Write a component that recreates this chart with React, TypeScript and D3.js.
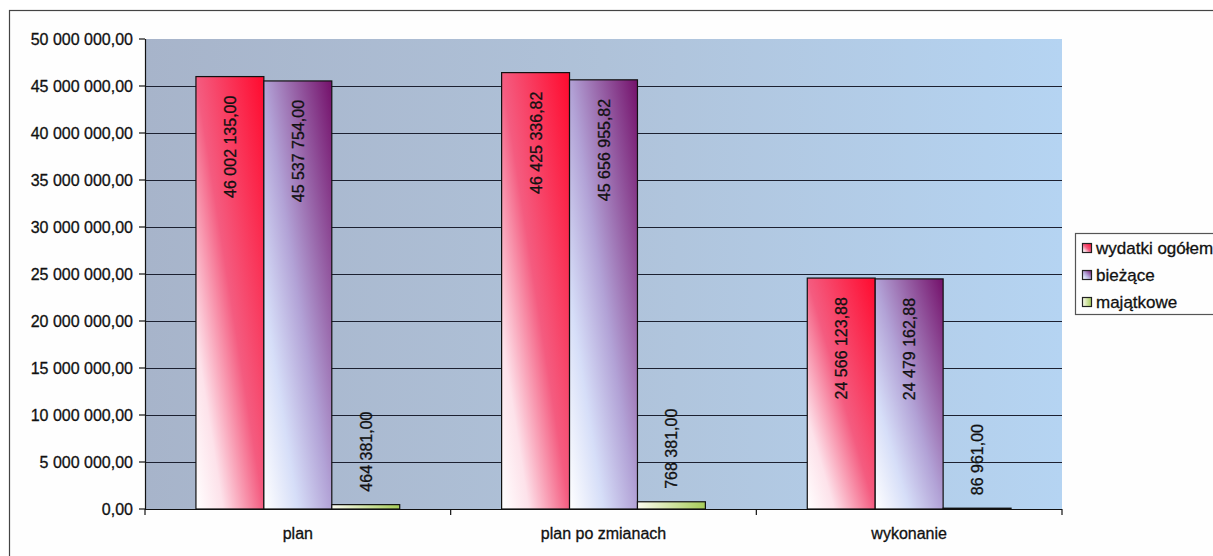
import React from "react";
import * as d3 from "d3";

const categories = ["plan", "plan po zmianach", "wykonanie"];
const seriesNames = ["wydatki ogółem", "bieżące", "majątkowe"];
const wydatkiOgolem = [46002135.0, 46425336.82, 24566123.88];
const biezace = [45537754.0, 45656955.82, 24479162.88];
const majatkowe = [464381.0, 768381.0, 86961.0];
const yTicks = [0, 5e6, 10e6, 15e6, 20e6, 25e6, 30e6, 35e6, 40e6, 45e6, 50e6];

const seriesValues = [wydatkiOgolem, biezace, majatkowe];
const gradIds = ["gRed", "gPurple", "gGreen"];

const pl = d3.formatLocale({ decimal: ",", thousands: " ", grouping: [3], currency: ["", ""] });
const fmt = pl.format(",.2f");

const W = 1213;
const H = 556;
const plot = { left: 145, right: 1062, top: 39, bottom: 509 };
const FONT = "'Liberation Sans', Arial, sans-serif";
const textStyle = { stroke: "#111", strokeWidth: 0.3 };

export default function App() {
  const x = d3.scaleBand<string>().domain(categories).range([plot.left, plot.right]).padding(0);
  const xs = d3
    .scaleBand<string>()
    .domain(seriesNames)
    .range([0, x.bandwidth()])
    .paddingInner(0)
    .paddingOuter(0.75);
  const y = d3.scaleLinear().domain([0, 50e6]).range([plot.bottom, plot.top]);

  const catBounds = [...categories.map((c) => x(c) as number), plot.right];

  return (
    <div>
      <style>{`body{margin:0;background:#fff}`}</style>
      <svg width={W} height={H} style={{ display: "block", fontFamily: FONT }}>
        <defs>
          <linearGradient id="plotBg" x1="0" y1="0" x2="1" y2="0">
            <stop offset="0" stopColor="#a7b4ca" />
            <stop offset="0.5" stopColor="#afc2d9" />
            <stop offset="1" stopColor="#b5d4f2" />
          </linearGradient>
          <linearGradient id="gRed" x1="0" y1="1" x2="1" y2="0">
            <stop offset="0" stopColor="#ffffff" />
            <stop offset="0.2" stopColor="#fde2ea" />
            <stop offset="0.5" stopColor="#f45c80" />
            <stop offset="1" stopColor="#ff0a2e" />
          </linearGradient>
          <linearGradient id="gPurple" x1="0" y1="1" x2="1" y2="0">
            <stop offset="0" stopColor="#ffffff" />
            <stop offset="0.25" stopColor="#d6def8" />
            <stop offset="0.5" stopColor="#b2a2d6" />
            <stop offset="1" stopColor="#74106a" />
          </linearGradient>
          <linearGradient id="gGreen" x1="0" y1="0" x2="1" y2="0">
            <stop offset="0" stopColor="#fbfbf0" />
            <stop offset="1" stopColor="#a6cc58" />
          </linearGradient>
        </defs>

        {/* chart frame */}
        <rect x={9.5} y={10.5} width={W + 20} height={H + 20} fill="#fefefe" stroke="#444" strokeWidth={1.2} />

        {/* plot area */}
        <rect
          x={plot.left}
          y={plot.top}
          width={plot.right - plot.left}
          height={plot.bottom - plot.top}
          fill="url(#plotBg)"
        />

        {/* gridlines */}
        {yTicks.slice(1, -1).map((t) => (
          <line
            key={t}
            x1={plot.left}
            x2={plot.right}
            y1={Math.round(y(t)) + 0.5}
            y2={Math.round(y(t)) + 0.5}
            stroke="#1c2030"
            strokeWidth={1}
          />
        ))}

        {/* bars */}
        {categories.map((c, ci) =>
          seriesNames.map((s, si) => {
            const v = seriesValues[si][ci];
            const bx = (x(c) as number) + (xs(s) as number);
            const by = y(v);
            const bw = xs.bandwidth();
            return (
              <rect
                key={c + s}
                x={bx}
                y={by}
                width={bw}
                height={plot.bottom - by}
                fill={`url(#${gradIds[si]})`}
                stroke="#111"
                strokeWidth={1.2}
              />
            );
          })
        )}

        {/* labels */}
        {categories.map((c, ci) =>
          seriesNames.map((s, si) => {
            const v = seriesValues[si][ci];
            const cx = (x(c) as number) + (xs(s) as number) + xs.bandwidth() / 2;
            const by = y(v);
            const inside = plot.bottom - by > 150;
            const ty = inside ? by + 19 : by - 13;
            return (
              <text
                key={"l" + c + s}
                transform={`translate(${cx + 6},${ty}) rotate(-90)`}
                textAnchor={inside ? "end" : "start"}
                fontSize={16}
                fill="#111"
                style={textStyle}
              >
                {fmt(v)}
              </text>
            );
          })
        )}

        {/* y axis */}
        <line x1={plot.left + 0.5} x2={plot.left + 0.5} y1={plot.top} y2={plot.bottom} stroke="#111" strokeWidth={1.2} />
        {yTicks.map((t) => (
          <g key={"t" + t}>
            <line x1={plot.left - 6} x2={plot.left} y1={y(t)} y2={y(t)} stroke="#111" strokeWidth={1.2} />
            <text x={plot.left - 12} y={y(t) + 5.5} textAnchor="end" fontSize={16} fill="#111" style={textStyle}>
              {fmt(t)}
            </text>
          </g>
        ))}

        {/* x axis */}
        <line x1={plot.left} x2={plot.right} y1={plot.bottom + 0.5} y2={plot.bottom + 0.5} stroke="#111" strokeWidth={1.2} />
        {catBounds.map((b, i) => (
          <line key={"xb" + i} x1={b} x2={b} y1={plot.bottom} y2={plot.bottom + 6} stroke="#111" strokeWidth={1.2} />
        ))}
        {categories.map((c) => (
          <text
            key={"c" + c}
            x={(x(c) as number) + x.bandwidth() / 2}
            y={539}
            textAnchor="middle"
            fontSize={16}
            fill="#111"
            style={textStyle}
          >
            {c}
          </text>
        ))}

        {/* legend */}
        <rect x={1075.5} y={233.5} width={160} height={81} fill="#fefefe" stroke="#555" strokeWidth={1.2} />
        {seriesNames.map((s, i) => {
          const cy = 248 + i * 27;
          return (
            <g key={"lg" + s}>
              <rect x={1082.5} y={cy - 4.5} width={9} height={9} fill={`url(#${gradIds[i]})`} stroke="#222" strokeWidth={1.2} />
              <text x={1096} y={cy + 6} fontSize={17} fill="#111" style={textStyle}>
                {s}
              </text>
            </g>
          );
        })}
      </svg>
    </div>
  );
}
